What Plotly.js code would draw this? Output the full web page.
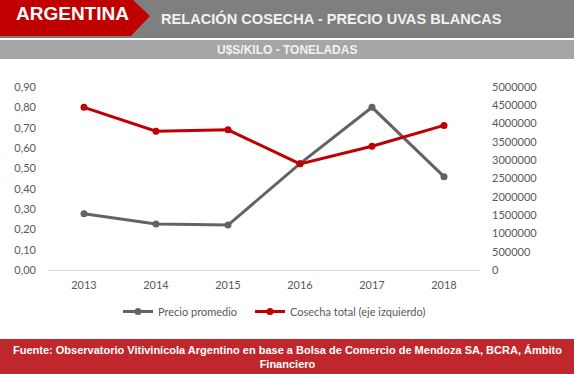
<!DOCTYPE html>
<html>
<head>
<meta charset="utf-8">
<script src="https://cdn.plot.ly/plotly-3.0.1.min.js"></script>
<style>html,body{margin:0;padding:0;background:#fff;}#chart{width:574px;height:374px;}</style>
</head>
<body>
<div id="chart"></div>
<script>
const years = ['2013','2014','2015','2016','2017','2018'];
const precioPromedio = [0.277, 0.226, 0.221, 0.523, 0.800, 0.459];
const cosechaTotal = [4445000, 3790000, 3830000, 2900000, 3380000, 3950000];
const leftTicks = [0,0.1,0.2,0.3,0.4,0.5,0.6,0.7,0.8,0.9];
const rightTicks = [0,500000,1000000,1500000,2000000,2500000,3000000,3500000,4000000,4500000,5000000];

const W = 574, H = 374;
const M = {l:48, r:94, t:87, b:104};
const pw = W - M.l - M.r, ph = H - M.t - M.b;
const px = x => (x - M.l) / pw;
const py = y => (H - M.b - y) / ph;

const tickFont = {family:'Lato, "Open Sans", sans-serif', size:11, color:'#595959'};
const hdr = 'Liberation Sans, Arial, sans-serif';

const traces = [
  {x: years, y: precioPromedio, name: 'Precio promedio', type:'scatter', mode:'lines+markers',
   line:{color:'#636363', width:3}, marker:{color:'#636363', size:7}, yaxis:'y', legend:'legend'},
  {x: years, y: cosechaTotal, name: 'Cosecha total (eje izquierdo)', type:'scatter', mode:'lines+markers',
   line:{color:'#c00000', width:3}, marker:{color:'#c00000', size:7}, yaxis:'y2', legend:'legend2'}
];

const shapes = [
  {type:'rect', xref:'paper', yref:'paper', x0:px(0), x1:px(W), y0:py(0), y1:py(38), fillcolor:'#7f7f7f', line:{width:0}, layer:'below'},
  {type:'rect', xref:'paper', yref:'paper', x0:px(0), x1:px(W), y0:py(40), y1:py(59), fillcolor:'#a6a6a6', line:{width:0}, layer:'below'},
  {type:'path', xref:'paper', yref:'paper', layer:'below', fillcolor:'#c00000', line:{width:0},
   path:`M ${px(0)} ${py(0)} L ${px(133)} ${py(0)} L ${px(150)} ${py(16)} L ${px(131)} ${py(36)} L ${px(0)} ${py(36)} Z`},
  {type:'rect', xref:'paper', yref:'paper', x0:px(0), x1:px(W), y0:py(339), y1:py(H), fillcolor:'#c0272d', line:{width:0}, layer:'below'}
];

const annotations = [
  {text:'<b>ARGENTINA</b>', xref:'paper', yref:'paper', x:px(14), y:py(13), xanchor:'left', yanchor:'middle', showarrow:false,
   font:{family:hdr, size:19, color:'#ffffff'}},
  {text:'<b>RELACIÓN COSECHA - PRECIO UVAS BLANCAS</b>', xref:'paper', yref:'paper', x:px(159), y:py(18), xanchor:'left', yanchor:'middle', showarrow:false,
   font:{family:hdr, size:14.6, color:'#f2f2f2'}},
  {text:'<b>U$S/KILO - TONELADAS</b>', xref:'paper', yref:'paper', x:px(287), y:py(50), xanchor:'center', yanchor:'middle', showarrow:false,
   font:{family:hdr, size:12, color:'#f2f2f2'}},
  {text:'<b>Fuente: Observatorio Vitivinícola Argentino en base a Bolsa de Comercio de Mendoza SA, BCRA, Ámbito<br>Financiero</b>',
   xref:'paper', yref:'paper', x:px(287), y:py(356.5), xanchor:'center', yanchor:'middle', showarrow:false, align:'center',
   font:{family:hdr, size:11, color:'#ffffff'}}
];

const layout = {
  width: W, height: H,
  margin: {l:M.l, r:M.r, t:M.t, b:M.b, pad:0},
  paper_bgcolor:'#ffffff', plot_bgcolor:'#ffffff',
  separators: ',.',
  showlegend: true,
  legend: {orientation:'h', x:px(118), y:py(297), xanchor:'left', yanchor:'top', font:tickFont, bgcolor:'rgba(0,0,0,0)'},
  legend2: {orientation:'h', x:px(250), y:py(297), xanchor:'left', yanchor:'top', font:tickFont, bgcolor:'rgba(0,0,0,0)'},
  xaxis: {type:'category', range:[-0.5,5.5], showgrid:false, zeroline:false, showline:true, linecolor:'#d9d9d9', linewidth:1,
    ticks:'', tickfont:tickFont, ticklabelstandoff:5, fixedrange:true},
  yaxis: {range:[0,0.9], tickvals:leftTicks, tickformat:'.2f', showgrid:false, zeroline:false, showline:false, ticks:'',
    tickfont:tickFont, ticklabelstandoff:11, fixedrange:true},
  yaxis2: {range:[0,5000000], tickvals:rightTicks, tickformat:'d', overlaying:'y', side:'right', showgrid:false, zeroline:false,
    showline:false, ticks:'', tickfont:tickFont, ticklabelstandoff:11, fixedrange:true},
  shapes: shapes,
  annotations: annotations
};

Plotly.newPlot('chart', traces, layout, {displayModeBar:false, staticPlot:true});
</script>
</body>
</html>
